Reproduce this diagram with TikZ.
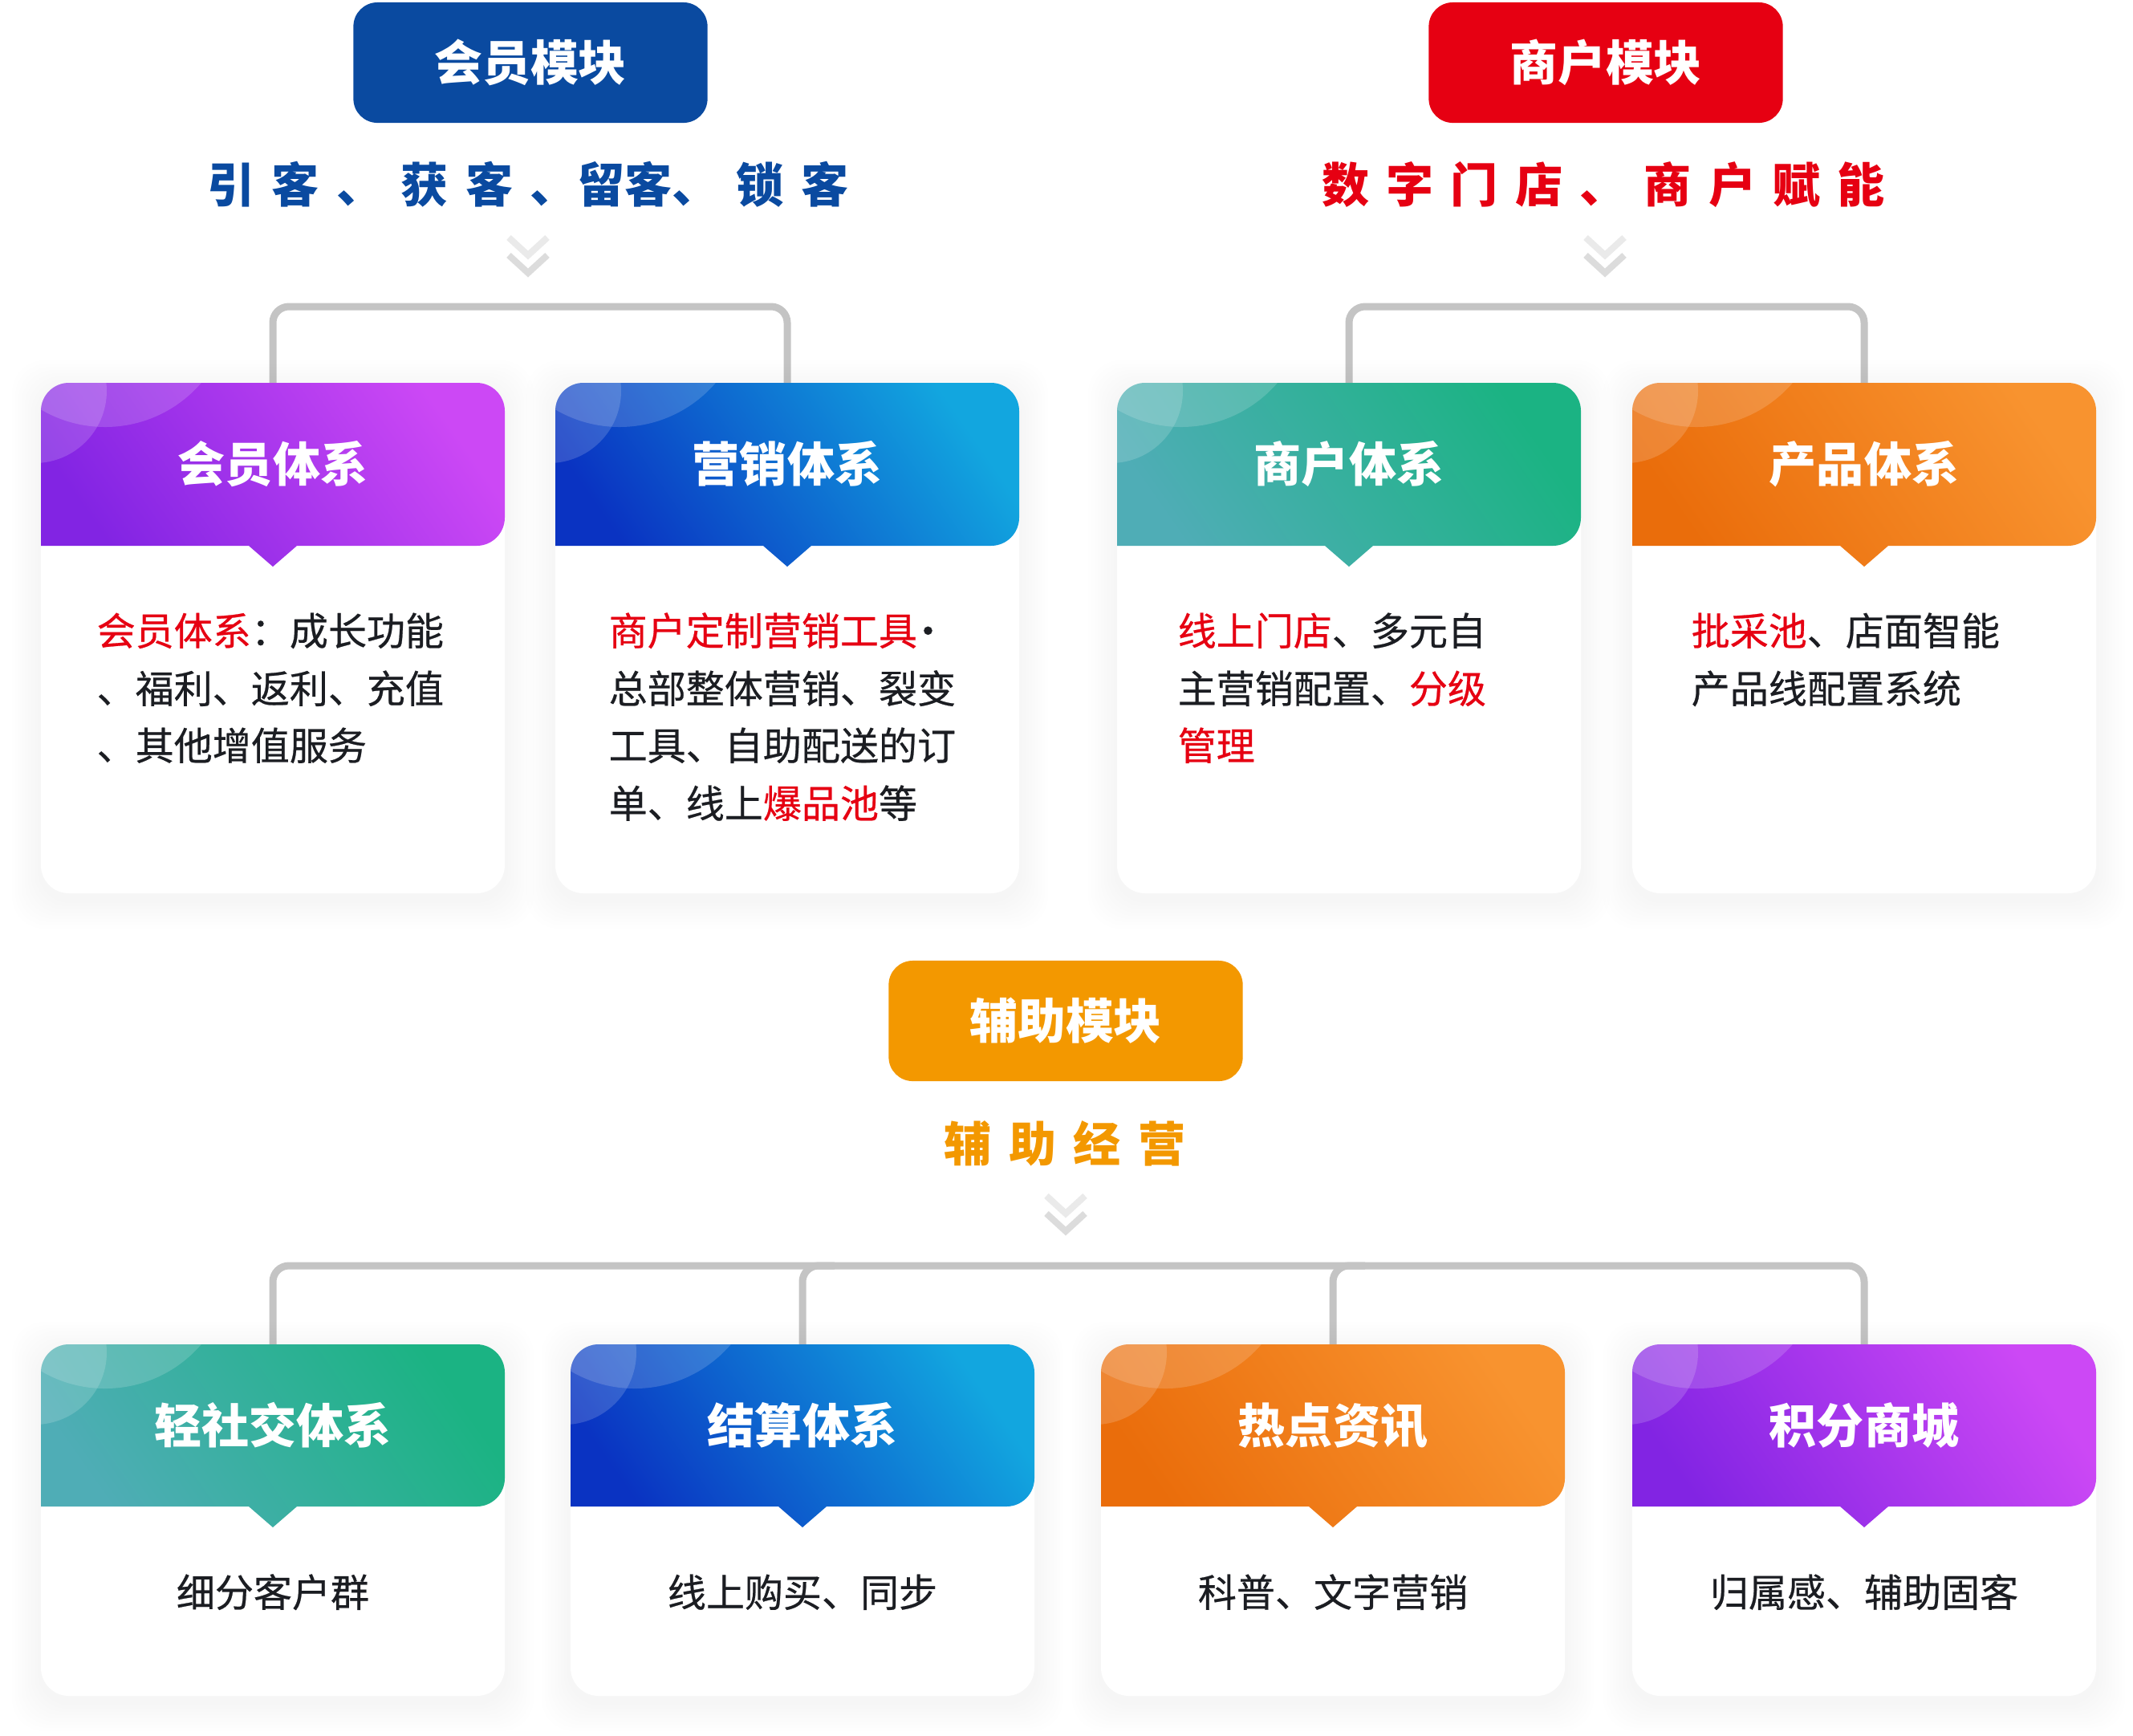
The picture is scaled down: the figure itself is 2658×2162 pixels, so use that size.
\documentclass[tikz,border=0pt]{standalone}
\usepackage{fontspec}
\setmainfont{Noto Sans CJK SC}
\newfontfamily\bodyfont[FakeBold=0.5]{Noto Sans CJK SC}
\definecolor{dblue}{HTML}{0A4AA0}
\definecolor{mred}{HTML}{E60012}
\definecolor{morange}{HTML}{F39800}
\definecolor{txt}{HTML}{1B1D22}
\definecolor{connc}{HTML}{C4C4C4}
\definecolor{chA}{HTML}{EAEAEA}
\definecolor{chB}{HTML}{DCDCDC}
\definecolor{pA}{HTML}{8224E3}\definecolor{pB}{HTML}{CC48F5}
\definecolor{bA}{HTML}{0A33C2}\definecolor{bB}{HTML}{12A6DF}
\definecolor{gA}{HTML}{4FADB6}\definecolor{gB}{HTML}{1BB383}
\definecolor{oA}{HTML}{EA6D0B}\definecolor{oB}{HTML}{F8932F}

\newcommand\gp{\hspace{0.36em}}

\tikzset{
  modbox/.style={inner sep=0pt, minimum width=4.41cm, minimum height=1.5cm, rounded corners=0.3cm, text=white, font=\bfseries\fontsize{17pt}{20pt}\selectfont},
  slog/.style={inner sep=0pt, anchor=base, font=\bfseries\fontsize{16.8pt}{20pt}\selectfont},
  hdtext/.style={inner sep=0pt, anchor=base, text=white, font=\bfseries\fontsize{16.8pt}{20pt}\selectfont},
  bt/.style={inner sep=0pt, anchor=base west, text=txt, font=\bodyfont\fontsize{13.66pt}{20pt}\selectfont},
  bc/.style={bt, anchor=base},
  connl/.style={draw=connc, line width=2.56pt, rounded corners=0.2cm},
  chevA/.style={draw=chA, line width=2.3pt},
  chevB/.style={draw=chB, line width=2.3pt},
  shadowlayer/.style={fill=black, opacity=0.0055, rounded corners=0.4cm}
}

% #1 name, #2 L, #3 T, #4 W, #5 H, #6 bottom, #7 colA, #8 colB, #9 title
\newcommand\mkcard[9]{%
  \foreach \i in {1,...,9}{%
    \path[shadowlayer] ({#2-4*\i},{#3-4*\i+8}) rectangle ({#2+#4+4*\i},{#6+4*\i+8});
  }
  \fill[white, rounded corners=0.35cm] (#2,#3) rectangle ({#2+#4},#6);
  \path[top color=#8, bottom color=#7, shading angle=-55]
    (#2,{#3+#5}) [rounded corners=0.35cm] -- (#2,#3) -- ({#2+#4},#3) -- ({#2+#4},{#3+#5}) [sharp corners]
    -- ({#2+#4/2+30},{#3+#5}) -- ({#2+#4/2},{#3+#5+26}) -- ({#2+#4/2-30},{#3+#5}) -- cycle;
  \begin{scope}
    \clip (#2,{#3+#5}) [rounded corners=0.35cm] -- (#2,#3) -- ({#2+#4},#3) -- ({#2+#4},{#3+#5}) [sharp corners] -- cycle;
    \fill[white, opacity=0.16] ({#2+80},{#3-103}) circle[radius=158];
    \fill[white, opacity=0.16] ({#2-8},{#3+10}) circle[radius=90];
  \end{scope}
  \coordinate (#1top) at ({#2+#4/2},#3);
  \node[hdtext] (#1title) at ({#2+#4/2},{#3+#5/2+22}) {#9};
}

\newcommand\chev[2]{%
  \draw[chevA] ({#1-24},#2) -- (#1,{#2+22}) -- ({#1+24},#2);
  \draw[chevB] ({#1-24},{#2+22}) -- (#1,{#2+44}) -- ({#1+24},{#2+22});
}

\begin{document}
\begin{tikzpicture}[x=0.01cm, y=-0.01cm]
\useasboundingbox (0,0) rectangle (2658,2162);
\fill[white] (0,0) rectangle (2658,2162);

% ---------- top modules ----------
\node[modbox, fill=dblue] (m1) at (661,78) {会员模块};
\node[modbox, fill=mred] (m2) at (2001,78) {商户模块};
\node[slog, text=dblue] (s1) at (658,252) {引\gp 客\gp 、\gp 获\gp 客\gp 、留客、\gp 锁\gp 客};
\node[slog, text=mred] (s2) at (1998,252) {数\gp 字\gp 门\gp 店\gp 、\gp 商\gp 户\gp 赋\gp 能};
\chev{658}{296}
\chev{2000}{296}

% connectors (drawn first, under the cards)
\coordinate (c1c) at (340,477);
\coordinate (c2c) at (981,477);
\coordinate (c3c) at (1681,477);
\coordinate (c4c) at (2323,477);
\draw[connl] (c1c) -- ++(0,-95) -| (c2c);
\draw[connl] (c3c) -- ++(0,-95) -| (c4c);

% ---------- top cards ----------
\mkcard{c1}{51}{477}{578}{203}{1113}{pA}{pB}{会员体系}
\mkcard{c2}{692}{477}{578}{203}{1113}{bA}{bB}{营销体系}
\mkcard{c3}{1392}{477}{578}{203}{1113}{gA}{gB}{商户体系}
\mkcard{c4}{2034}{477}{578}{203}{1113}{oA}{oB}{产品体系}

\node[bt] (t1a) at (120,804) {\textcolor{mred}{会员体系}：成长功能};
\node[bt] (t1b) at (120,876) {、福利、返利、充值};
\node[bt] (t1c) at (120,947) {、其他增值服务};

\node[bt] (t2a) at (758,804) {\textcolor{mred}{商户定制营销工具}\kern-0.22em·};
\node[bt] (t2b) at (758,876) {总部整体营销、裂变};
\node[bt] (t2c) at (758,947) {工具、自助配送的订};
\node[bt] (t2d) at (758,1019) {单、线上\textcolor{mred}{爆品池}等};

\node[bt] (t3a) at (1467,804) {\textcolor{mred}{线上门店}、多元自};
\node[bt] (t3b) at (1467,876) {主营销配置、\textcolor{mred}{分级}};
\node[bt] (t3c) at (1467,947) {\textcolor{mred}{管理}};

\node[bt] (t4a) at (2107,804) {\textcolor{mred}{批采池}、店面智能};
\node[bt] (t4b) at (2107,876) {产品线配置系统};

% ---------- middle module ----------
\node[modbox, fill=morange] (m3) at (1328,1272) {辅助模块};
\node[slog, text=morange] (s3) at (1327,1447) {辅\gp 助\gp 经\gp 营};
\chev{1328}{1490}

\coordinate (d1c) at (340,1675);
\coordinate (d2c) at (1000,1675);
\coordinate (d3c) at (1661,1675);
\coordinate (d4c) at (2323,1675);
\draw[connl] (d1c) -- ++(0,-98) -| (d4c);
\draw[connl] (d2c) -- ++(0,-98) -- ++(40,0);
\draw[connl] (d3c) -- ++(0,-98) -- ++(40,0);

% ---------- bottom cards ----------
\mkcard{d1}{51}{1675}{578}{202}{2113}{gA}{gB}{轻社交体系}
\mkcard{d2}{711}{1675}{578}{202}{2113}{bA}{bB}{结算体系}
\mkcard{d3}{1372}{1675}{578}{202}{2113}{oA}{oB}{热点资讯}
\mkcard{d4}{2034}{1675}{578}{202}{2113}{pA}{pB}{积分商城}

\node[bc] (u1) at (340,2002) {细分客户群};
\node[bc] (u2) at (1000,2002) {线上购买、同步};
\node[bc] (u3) at (1661,2002) {科普、文字营销};
\node[bc] (u4) at (2323,2002) {归属感、辅助固客};
\end{tikzpicture}
\end{document}
